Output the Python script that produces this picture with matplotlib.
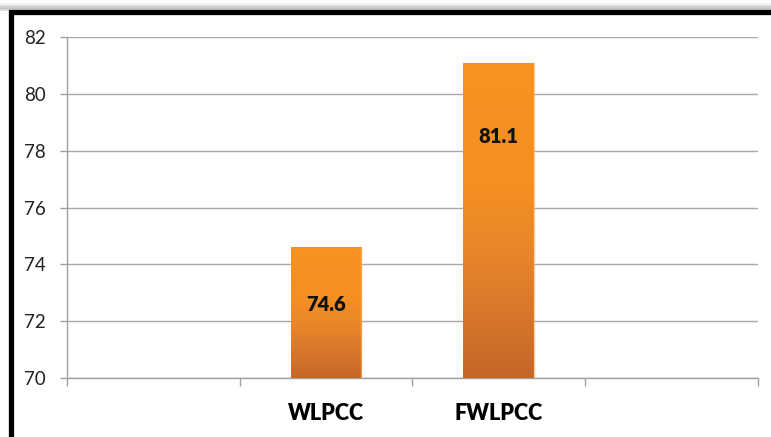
import numpy as np
import matplotlib.pyplot as plt
from matplotlib.colors import LinearSegmentedColormap
from matplotlib.lines import Line2D

plt.rcParams.update({
    'font.family': 'Lato',
    'font.size': 13,
})

# data
slots = ['', 'WLPCC', 'FWLPCC', '']
values = [np.nan, 74.6, 81.1, np.nan]
value_labels = ['', '74.6', '81.1', '']
label_y = [np.nan, 72.6, 78.5, np.nan]   # where the value text sits
yticks = [70, 72, 74, 76, 78, 80, 82]

fig = plt.figure(figsize=(7.71, 4.37), dpi=100)
ax = fig.add_axes([0.0869, 0.135, 0.896, 0.780])

x = np.arange(len(slots))
bars = ax.bar(x, np.nan_to_num(values, nan=70), width=0.41, bottom=0,
              color='none', edgecolor='none', zorder=3)

# orange gradient fill, darker toward the base
cmap = LinearSegmentedColormap.from_list(
    'bar', [(0.0, '#c6672b'), (0.4, '#e9862a'), (0.6, '#f48f22'), (1.0, '#f8921f')])
grad = np.linspace(0, 1, 256).reshape(-1, 1)
for b, v in zip(bars, values):
    if np.isnan(v):
        continue
    x0 = b.get_x()
    w = b.get_width()
    im = ax.imshow(grad, cmap=cmap, origin='lower', aspect='auto',
                   extent=[x0, x0 + w, 70, v], zorder=3)
    im.set_clip_path(b)
    ax.plot([x0 + w, x0 + w], [70, v], color='#ffb060', lw=1, zorder=4, alpha=0.6)

for xi, t, ly in zip(x, value_labels, label_y):
    if t:
        ax.text(xi, ly, t, ha='center', va='center', fontsize=14.5,
                fontweight='heavy', color='#111111', zorder=5)

ax.set_xlim(-0.5, len(slots) - 0.5)
ax.set_ylim(70, 82)
ax.set_yticks(yticks)
ax.set_yticklabels([str(t) for t in yticks])
ax.set_xticks(x)
ax.set_xticklabels(slots, fontweight='heavy', fontsize=15.5)
ax.set_xticks(np.arange(len(slots) + 1) - 0.5, minor=True)
ax.tick_params(axis='x', which='major', length=0, pad=18)
ax.tick_params(axis='x', which='minor', length=6, color='#a0a0a0', width=1)
ax.tick_params(axis='y', length=5, color='#a0a0a0', width=1, pad=10,
               labelcolor='#222222', labelsize=13.5)

ax.grid(axis='y', color='#a8a8a8', lw=1, zorder=0)
ax.set_axisbelow(True)
for s in ['top', 'right']:
    ax.spines[s].set_visible(False)
for s in ['left', 'bottom']:
    ax.spines[s].set_color('#a0a0a0')
    ax.spines[s].set_linewidth(1)

# black frame with a soft shadow along the top
for k, a in enumerate([0.05, 0.08, 0.12, 0.16]):
    yy = 1 - (4 + k * 1.5) / 437
    fig.add_artist(Line2D([0, 1], [yy, yy], transform=fig.transFigure,
                          color='black', lw=2, alpha=a))
top = 1 - 12 / 437
left = 11 / 771
fig.add_artist(Line2D([left, left, 1], [0, top, top], transform=fig.transFigure,
                      color='black', lw=3.8, solid_joinstyle='miter'))

fig.savefig('out.png', dpi=100)
